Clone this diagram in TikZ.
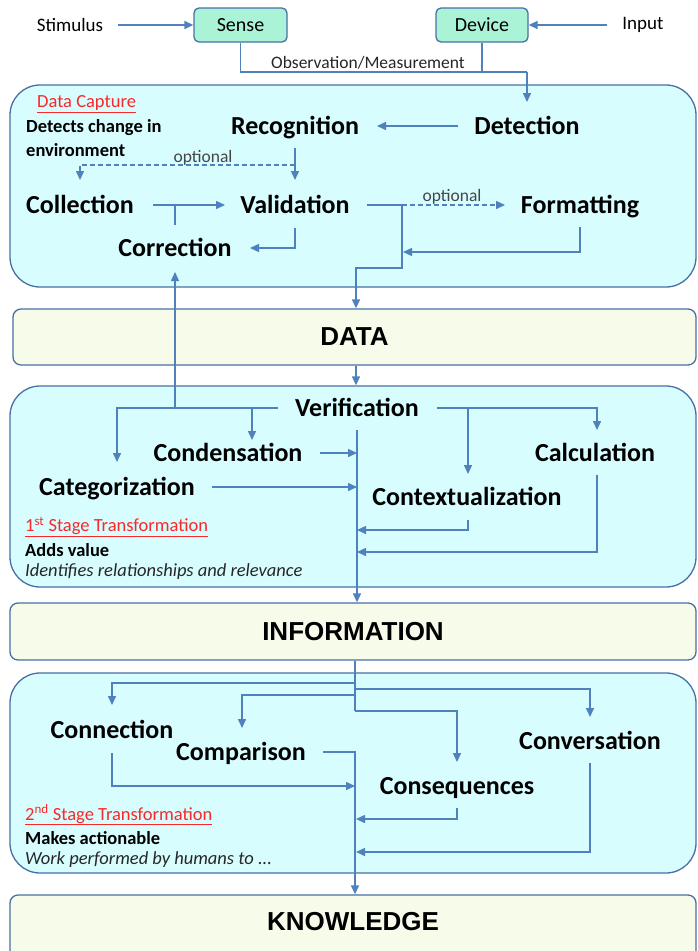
\documentclass[tikz,border=0pt]{standalone}
\usepackage{fontspec}
\setmainfont{Carlito}
\newfontfamily\barfont{Liberation Sans}
\usetikzlibrary{arrows.meta}
\definecolor{linec}{RGB}{79,129,189}
\definecolor{borderc}{RGB}{72,112,165}
\definecolor{capfill}{RGB}{215,253,255}
\definecolor{barfill}{RGB}{247,252,234}
\definecolor{mint}{RGB}{170,243,215}
\definecolor{redc}{RGB}{250,40,40}
\definecolor{optc}{RGB}{70,70,70}
\begin{document}
\begin{tikzpicture}[x=1pt,y=-1pt,
  line/.style={draw=linec, line width=1.5pt},
  arr/.style={draw=linec, line width=1.5pt, -{Triangle[length=9pt,width=8pt]}},
  dashline/.style={dash pattern=on 5pt off 3pt},
  big/.style={draw=borderc, line width=1.3pt, fill=capfill, rounded corners=30pt, minimum width=686pt, inner sep=0pt},
  bar/.style={draw=borderc, line width=1.3pt, fill=barfill, rounded corners=8pt, minimum width=686pt, inner sep=0pt, font=\barfont\bfseries\fontsize{26}{28}\selectfont},
  bartext/.style={inner sep=0pt, font=\barfont\bfseries\fontsize{26}{28}\selectfont},
  lbl/.style={inner sep=0pt, anchor=base, font=\bfseries\fontsize{26}{28}\selectfont},
  small/.style={inner sep=0pt, font=\fontsize{19}{21}\selectfont},
  opt/.style={inner sep=0pt, text=optc, font=\fontsize{17.5}{19}\selectfont},
  capt/.style={inner sep=0pt, anchor=west, text=redc, font=\fontsize{18.5}{20}\selectfont},
  note/.style={inner sep=0pt, anchor=west, font=\bfseries\fontsize{18.5}{20}\selectfont},
  notei/.style={inner sep=0pt, anchor=west, text=black!85, font=\itshape\fontsize{18.5}{20}\selectfont},
  srcbox/.style={draw=borderc, fill=mint, rounded corners=5pt, minimum width=93pt, minimum height=34pt, line width=1.3pt, inner sep=0pt, font=\fontsize{20}{22}\selectfont}
]
\clip (0,0) rectangle (698,951);

% ---------- containers ----------
\node[big, minimum height=202pt] (cap) at (353,186) {};
\node[big, minimum height=201pt] (trans1) at (353,486.5) {};
\node[big, minimum height=200pt] (trans2) at (353,773) {};
\node[bar, minimum width=683pt, minimum height=56pt] (data) at (354.5,337) {DATA};
\node[bar, minimum height=57pt] (info) at (353,631.5) {INFORMATION};
\node[bar, minimum height=70pt] (know) at (353,930) {};
\node[bartext] (knowt) at (353,922) {KNOWLEDGE};

% ---------- top ----------
\node[small] (stim) at (70,25) {Stimulus};
\node[small] (inp) at (643,25) {Input};
\node[srcbox] (sense) at (240.5,25) {Sense};
\node[srcbox, minimum width=92pt] (device) at (482,25) {Device};
\node[opt, text=black!85] (obs) at (368,63) {Observation/Measurement};

% ---------- data capture labels ----------
\node[lbl] (recog) at (295,134) {Recognition};
\node[lbl] (detect) at (527,134) {Detection};
\node[lbl] (coll) at (80,213) {Collection};
\node[lbl] (valid) at (295,213) {Validation};
\node[lbl] (form) at (580,213) {Formatting};
\node[lbl] (corr) at (175,256) {Correction};
\node[opt] (opt1) at (203,158) {optional};
\node[opt] (opt2) at (452,197) {optional};
\node[capt] (dctitle) at (37,104) {\underline{Data Capture}};
\node[note] (dcdesc1) at (26,128) {Detects change in};
\node[note] (dcdesc2) at (26,150) {environment};

% ---------- first transformation labels ----------
\node[lbl] (verif) at (357,416) {Verification};
\node[lbl] (cond) at (228,461) {Condensation};
\node[lbl] (categ) at (117,495) {Categorization};
\node[lbl] (calc) at (595,461) {Calculation};
\node[lbl] (ctx) at (467,505) {Contextualization};
\node[capt] (st1a) at (25,527) {\underline{1\textsuperscript{st} Stage Transformation}};
\node[note] (st1b) at (25,550) {Adds value};
\node[notei] (st1c) at (25,572) {Identifies relationships and relevance};

% ---------- second transformation labels ----------
\node[lbl] (conn) at (112,738) {Connection};
\node[lbl] (comp) at (241,760) {Comparison};
\node[lbl] (conv) at (590,749) {Conversation};
\node[lbl] (cons) at (457,794) {Consequences};
\node[capt] (st2a) at (25,815) {\underline{2\textsuperscript{nd} Stage Transformation}};
\node[note] (st2b) at (25,838) {Makes actionable};
\node[notei] (st2c) at (25,860) {Work performed by humans to ...};

% ---------- top connectors ----------
\draw[arr] ([shift={(48,0)}]stim.center) -- (sense.west);
\draw[arr] ([shift={(-36,0)}]inp.center) -- (device.east);
\coordinate (obsR) at (527,72);
\draw[line] (sense.south) |- (obsR);
\draw[line] (device.south) -- (device.south |- obsR);
\draw[arr] (obsR) -- ([shift={(0,-32)}]detect.base);

% ---------- data capture connectors ----------
\draw[arr] ([shift={(-69,-8)}]detect.base) -- ([shift={(82,-8)}]recog.base);
\coordinate (optsplit) at ([shift={(0,31)}]recog.base);
\draw[arr] ([shift={(0,14)}]recog.base) -- ([shift={(0,-33)}]valid.base);
\draw[arr, dashline] (optsplit) -| ([shift={(0,-33)}]coll.base);
\draw[arr] ([shift={(73,-8)}]coll.base) -- ([shift={(-70,-8)}]valid.base);
\draw[line] ([shift={(0,-31)}]corr.base) -- ([shift={(0,-51)}]corr.base);
\draw[arr] ([shift={(0,15)}]valid.base) |- ([shift={(75,-8)}]corr.base);
\coordinate (vsplit) at ([shift={(107,-8)}]valid.base);
\draw[line] ([shift={(72,-8)}]valid.base) -- (vsplit);
\draw[arr, dashline] (vsplit) -- ([shift={(-75,-8)}]form.base);
\coordinate (dcout) at (356,268);
\draw[arr] (vsplit) |- (dcout) -- (dcout |- data.north);
\draw[arr] ([shift={(0,14)}]form.base) |- ([shift={(1,47)}]vsplit);

% ---------- data to first transformation ----------
\draw[arr] (data.south -| dcout) -- (trans1.north -| dcout);

\coordinate (vl) at ([shift={(-79,-8)}]verif.base);
\draw[arr] (vl) -| ([shift={(0,-33)}]categ.base);
\coordinate (cb) at ([shift={(24,-21)}]cond.base);
\draw[arr] (cb |- vl) -- (cb);
\coordinate (corrin) at ([shift={(0,16)}]corr.base);
\draw[arr] (corrin |- vl) -- (corrin);
\coordinate (vr) at ([shift={(80,-8)}]verif.base);
\draw[arr] (vr) -| ([shift={(2,-31)}]calc.base);
\coordinate (ctxin) at ([shift={(1,-31)}]ctx.base);
\draw[arr] (ctxin |- vr) -- (ctxin);
\coordinate (m1) at (357,430);
\draw[arr] (m1) -- (m1 |- info.north);
\coordinate (condout) at ([shift={(92,-8)}]cond.base);
\draw[arr] (condout) -- (m1 |- condout);
\coordinate (categout) at ([shift={(95,-8)}]categ.base);
\draw[arr] (categout) -- (m1 |- categout);
\coordinate (ctxret) at (357,530);
\draw[arr] ([shift={(1,15)}]ctx.base) |- (ctxret);
\coordinate (calcret) at (357,552);
\draw[arr] ([shift={(2,14)}]calc.base) |- (calcret);

% ---------- information to second transformation ----------
\coordinate (tr) at (355,711);
\draw[line] (info.south -| tr) -- (tr);
\coordinate (b1) at (355,683);
\draw[arr] (b1) -| ([shift={(0,-33)}]conn.base);
\coordinate (b2) at (355,695);
\draw[arr] (b2) -| ([shift={(1,-32)}]comp.base);
\coordinate (b3) at (355,689);
\draw[arr] (b3) -| ([shift={(0,-32)}]conv.base);
\draw[arr] (tr) -| ([shift={(0,-32)}]cons.base);
\coordinate (m2) at (355,752);
\draw[arr] ([shift={(82,-8)}]comp.base) -| (know.north -| m2);
\coordinate (connret) at (355,786);
\draw[arr] ([shift={(0,15)}]conn.base) |- (connret);
\coordinate (consret) at (356,819);
\draw[arr] ([shift={(0,14)}]cons.base) |- (consret);
\coordinate (convret) at (356,852);
\draw[arr] ([shift={(0,14)}]conv.base) |- (convret);
\end{tikzpicture}
\end{document}
